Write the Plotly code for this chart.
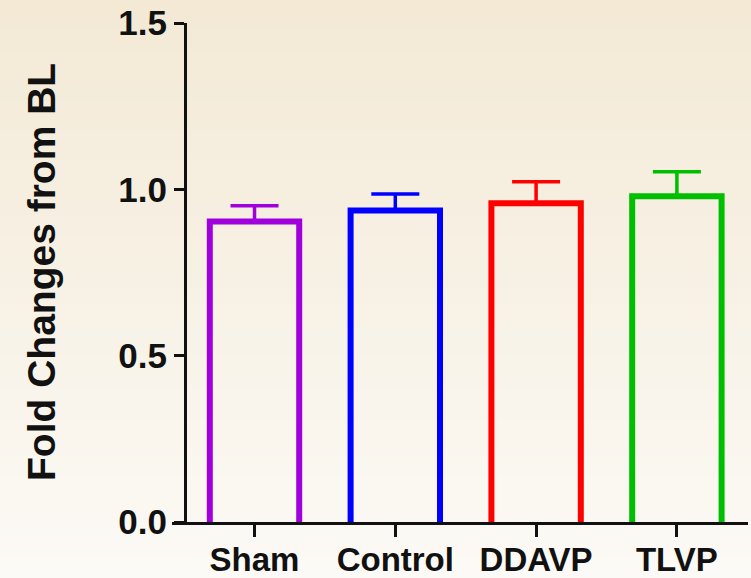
import plotly.graph_objects as go

# Group means and upper SEM limits (fold change relative to baseline)
groups = ["Sham", "Control", "DDAVP", "TLVP"]
fold_change = [0.903, 0.936, 0.958, 0.979]
upper_limit = [0.951, 0.986, 1.023, 1.053]
bar_colors = ["#A000DC", "#0000FF", "#FF0000", "#00BE00"]
y_ticks = [0.0, 0.5, 1.0, 1.5]

FONT = "Liberation Sans, Arial, sans-serif"
W, H = 751, 578
ML, MR, MT, MB = 172, 3, 23, 56
plot_w = W - ML - MR
plot_h = H - MT - MB

# keep the bottom edge of each outlined bar hidden under the axis
pad = 0.011
err_plus = [u - v for u, v in zip(upper_limit, fold_change)]

fig = go.Figure()
fig.add_trace(go.Bar(
    x=list(range(len(groups))),
    y=[v + pad for v in fold_change],
    base=[-pad] * len(groups),
    width=0.635,
    marker=dict(color="rgba(0,0,0,0)", line=dict(color=bar_colors, width=6)),
    showlegend=False,
))

# upper error bars in each group's own colour
for i, c in enumerate(bar_colors):
    fig.add_trace(go.Scatter(
        x=[i], y=[fold_change[i]], mode="markers",
        marker=dict(size=1, color="rgba(0,0,0,0)"),
        error_y=dict(type="data", symmetric=False, array=[err_plus[i]],
                     arrayminus=[0], thickness=3.5, width=24, color=c),
        showlegend=False, hoverinfo="skip",
    ))

# warm vertical background gradient
n_bands = 80
top_rgb = (243, 233, 213)
bot_rgb = (252, 250, 246)
y_top = 1 + MT / plot_h
y_bot = -MB / plot_h
shapes = []
for k in range(n_bands):
    t = k / (n_bands - 1)
    r, g, b = (round(a + (bb - a) * t) for a, bb in zip(top_rgb, bot_rgb))
    y0 = y_top - (y_top - y_bot) * k / n_bands
    y1 = y_top - (y_top - y_bot) * (k + 1) / n_bands
    shapes.append(dict(type="rect", xref="paper", yref="paper",
                       x0=-ML / plot_w, x1=1 + MR / plot_w, y0=y1 - 0.002, y1=y0,
                       fillcolor=f"rgb({r},{g},{b})", line=dict(width=0),
                       layer="below"))

yaxis_x = (185 - ML) / plot_w

fig.update_layout(
    width=W, height=H,
    margin=dict(l=ML, r=MR, t=MT, b=MB, autoexpand=False),
    paper_bgcolor="rgba(0,0,0,0)",
    plot_bgcolor="rgba(0,0,0,0)",
    shapes=shapes,
    font=dict(family=FONT, color="#111"),
    xaxis=dict(
        range=[-0.586, 3.505], automargin=False,
        tickmode="array", tickvals=list(range(len(groups))),
        ticktext=[f"<b>{g}</b>" for g in groups],
        tickfont=dict(size=33, family=FONT, color="#111"),
        ticklabelstandoff=-6,
        showline=True, linecolor="#111", linewidth=3,
        ticks="outside", ticklen=12, tickwidth=3, tickcolor="#111",
        showgrid=False, zeroline=False, fixedrange=True,
    ),
    yaxis=dict(
        range=[0, 1.5], automargin=False,
        anchor="free", position=yaxis_x,
        tickmode="array", tickvals=y_ticks,
        ticktext=[f"<b>{v:.1f}</b>" for v in y_ticks],
        tickfont=dict(size=35, family=FONT, color="#111"),
        showline=True, linecolor="#111", linewidth=3,
        ticks="outside", ticklen=10, tickwidth=3, tickcolor="#111",
        showgrid=False, zeroline=False, fixedrange=True,
    ),
    annotations=[dict(
        text="<b>Fold Changes from BL</b>",
        xref="paper", yref="paper",
        x=(41 - ML) / plot_w, y=(522 - 272) / plot_h,
        textangle=-90, showarrow=False,
        font=dict(size=39, family=FONT, color="#111"),
        xanchor="center", yanchor="middle",
    )],
)

fig.write_html("out.html")
